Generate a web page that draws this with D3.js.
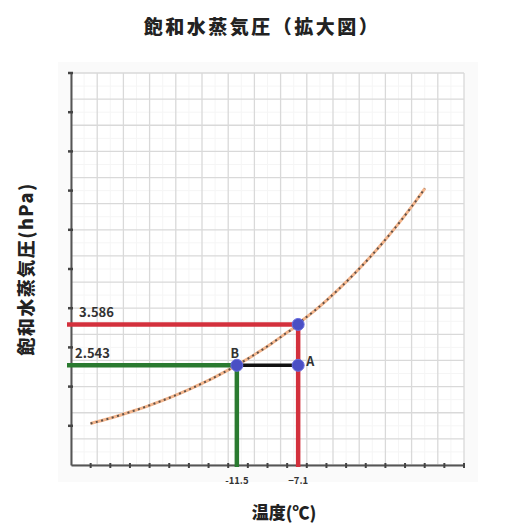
<!DOCTYPE html>
<html>
<head>
<meta charset="utf-8">
<script src="https://cdn.jsdelivr.net/npm/d3@7"></script>
<style>
  html, body { margin: 0; padding: 0; background: #ffffff; }
  svg { display: block; }
  text { font-family: "Noto Sans CJK JP", "Noto Sans", sans-serif; }
</style>
</head>
<body>
<svg id="chart" width="521" height="524"></svg>
<script>
// Saturation vapour pressure over water (hPa) vs temperature (°C)
const curveTemps = [-22, -21, -20, -19, -18, -17, -16, -15, -14, -13, -12, -11.5, -11,
                    -10, -9, -8, -7.1, -7, -6, -5, -4, -3, -2, -1, 0, 1, 2];
const curvePressures = [1.057, 1.153, 1.257, 1.370, 1.491, 1.623, 1.764, 1.916, 2.080,
                        2.256, 2.446, 2.543, 2.649, 2.868, 3.102, 3.354, 3.586, 3.623,
                        3.911, 4.220, 4.550, 4.903, 5.280, 5.682, 6.112, 6.570, 7.058];

// Marked states
const pointNames = ["", "A", "B"];
const pointTemps = [-7.1, -7.1, -11.5];
const pointPressures = [3.586, 2.543, 2.543];

// Axis annotations
const xLabelValues = [-11.5, -7.1];
const xLabelTexts = ["-11.5", "\u22127.1"];
const yLabelValues = [3.586, 2.543];
const yLabelTexts = ["3.586", "2.543"];

const xDomain = [-23.4, 4.8];
const yDomain = [0, 10];
const xTickCount = 20;   // evenly spaced tick marks along the temperature axis
const yTickValues = [0, 1, 2, 3, 4, 5, 6, 7, 8, 9, 10];
const gridDivisions = 15; // graph-paper squares in each direction

const title = "飽和水蒸気圧（拡大図）";
const xTitle = "温度(℃)";
const yTitle = "飽和水蒸気圧(hPa)";

const svg = d3.select("#chart");
const plotLeft = 71, plotRight = 464, plotTop = 73, plotBottom = 465;

const x = d3.scaleLinear().domain(xDomain).range([plotLeft, plotRight]);
const y = d3.scaleLinear().domain(yDomain).range([plotBottom, plotTop]);

// light panel behind the plot
svg.append("rect").attr("x", 58).attr("y", 62).attr("width", 420).attr("height", 420)
  .attr("fill", "#fafafa");
svg.append("rect").attr("x", plotLeft).attr("y", plotTop)
  .attr("width", plotRight - plotLeft).attr("height", plotBottom - plotTop)
  .attr("fill", "#ffffff");

// graph-paper grid
const gx = d3.range(gridDivisions + 1).map(i => xDomain[0] + i * (xDomain[1] - xDomain[0]) / gridDivisions);
const gy = d3.range(gridDivisions + 1).map(i => yDomain[0] + i * (yDomain[1] - yDomain[0]) / gridDivisions);
const gxMinor = d3.range(gridDivisions).map(i => xDomain[0] + (i + 0.5) * (xDomain[1] - xDomain[0]) / gridDivisions);
const gyMinor = d3.range(gridDivisions).map(i => yDomain[0] + (i + 0.5) * (yDomain[1] - yDomain[0]) / gridDivisions);
const grid = svg.append("g");
grid.append("g").selectAll("line").data(gxMinor).join("line")
  .attr("x1", d => x(d)).attr("x2", d => x(d)).attr("y1", plotTop).attr("y2", plotBottom)
  .attr("stroke", "#f5f5f5").attr("stroke-width", 1);
grid.append("g").selectAll("line").data(gyMinor).join("line")
  .attr("y1", d => y(d)).attr("y2", d => y(d)).attr("x1", plotLeft).attr("x2", plotRight)
  .attr("stroke", "#f5f5f5").attr("stroke-width", 1);
grid.append("g").selectAll("line").data(gx).join("line")
  .attr("x1", d => x(d)).attr("x2", d => x(d)).attr("y1", plotTop).attr("y2", plotBottom)
  .attr("stroke", "#d9d9d9").attr("stroke-width", 1.3);
grid.append("g").selectAll("line").data(gy).join("line")
  .attr("y1", d => y(d)).attr("y2", d => y(d)).attr("x1", plotLeft).attr("x2", plotRight)
  .attr("stroke", "#d9d9d9").attr("stroke-width", 1.3);

// axes
const xTicks = d3.range(xTickCount + 1).map(i => xDomain[0] + i * (xDomain[1] - xDomain[0]) / xTickCount);
const xAxis = d3.axisBottom(x).tickValues(xTicks).tickSize(0).tickFormat("");
const yAxis = d3.axisLeft(y).tickValues(yTickValues).tickSize(0).tickFormat("");
const gxA = svg.append("g").attr("transform", `translate(0,${plotBottom})`).call(xAxis);
const gyA = svg.append("g").attr("transform", `translate(${plotLeft},0)`).call(yAxis);
[gxA, gyA].forEach(g => g.select(".domain").attr("stroke", "#555").attr("stroke-width", 2));
svg.append("g").selectAll("line").data(xTicks.slice(1)).join("line")
  .attr("x1", d => x(d)).attr("x2", d => x(d)).attr("y1", plotBottom - 2).attr("y2", plotBottom + 3)
  .attr("stroke", "#444").attr("stroke-width", 2);
svg.append("g").selectAll("line").data(yTickValues.slice(1)).join("line")
  .attr("y1", d => y(d)).attr("y2", d => y(d)).attr("x1", plotLeft - 3).attr("x2", plotLeft + 2)
  .attr("stroke", "#444").attr("stroke-width", 2.5);

// saturation curve: pale orange line with dark dots
const line = d3.line().x((d, i) => x(curveTemps[i])).y(d => y(d)).curve(d3.curveMonotoneX);
svg.append("path").datum(curvePressures).attr("d", line)
  .attr("fill", "none").attr("stroke", "#f3b58c").attr("stroke-width", 3);
svg.append("path").datum(curvePressures).attr("d", line)
  .attr("fill", "none").attr("stroke", "#5e5048").attr("stroke-width", 2)
  .attr("stroke-dasharray", "2,3.5");

// guide lines
const xStart = plotLeft - 4;
const red = "#d3303c", green = "#2a7a30";
const guides = svg.append("g").attr("fill", "none").attr("stroke-linecap", "butt");
guides.append("line")
  .attr("x1", xStart).attr("x2", x(pointTemps[0])).attr("y1", y(pointPressures[0])).attr("y2", y(pointPressures[0]))
  .attr("stroke", red).attr("stroke-width", 4.5);
guides.append("line")
  .attr("x1", x(pointTemps[0])).attr("x2", x(pointTemps[0])).attr("y1", y(pointPressures[0])).attr("y2", plotBottom + 2)
  .attr("stroke", red).attr("stroke-width", 4.5);
guides.append("line")
  .attr("x1", xStart).attr("x2", x(pointTemps[2])).attr("y1", y(pointPressures[2])).attr("y2", y(pointPressures[2]))
  .attr("stroke", green).attr("stroke-width", 4.5);
guides.append("line")
  .attr("x1", x(pointTemps[2])).attr("x2", x(pointTemps[2])).attr("y1", y(pointPressures[2])).attr("y2", plotBottom + 2)
  .attr("stroke", green).attr("stroke-width", 4.5);
guides.append("line")
  .attr("x1", x(pointTemps[2])).attr("x2", x(pointTemps[1])).attr("y1", y(pointPressures[1])).attr("y2", y(pointPressures[1]))
  .attr("stroke", "#111").attr("stroke-width", 3.5);

// points
svg.append("g").selectAll("circle").data(pointTemps).join("circle")
  .attr("cx", d => x(d)).attr("cy", (d, i) => y(pointPressures[i])).attr("r", 6)
  .attr("fill", "#4a4fc4").attr("stroke", "#6a6fe0").attr("stroke-width", 1);

// point names
svg.append("text").attr("x", x(pointTemps[1]) + 8).attr("y", y(pointPressures[1]) + 1)
  .attr("font-size", 12.5).attr("font-weight", "bold").attr("fill", "#333").text(pointNames[1]);
svg.append("text").attr("x", x(pointTemps[2]) - 2).attr("y", y(pointPressures[2]) - 7)
  .attr("text-anchor", "middle").attr("font-size", 12.5).attr("font-weight", "bold").attr("fill", "#333").text(pointNames[2]);

// value labels
svg.append("g").selectAll("text").data(yLabelValues).join("text")
  .attr("x", (d, i) => i === 0 ? 79 : 75).attr("y", d => y(d) - 7)
  .attr("font-size", 13).attr("font-weight", "bold").attr("fill", "#333")
  .attr("font-family", "DejaVu Sans, sans-serif")
  .text((d, i) => yLabelTexts[i]);
svg.append("g").selectAll("text").data(xLabelValues).join("text")
  .attr("x", d => x(d)).attr("y", plotBottom + 19)
  .attr("text-anchor", "middle").attr("font-size", 9.5).attr("font-weight", "bold").attr("fill", "#333")
  .attr("font-family", "DejaVu Sans, sans-serif")
  .text((d, i) => xLabelTexts[i]);

// titles
svg.append("text").attr("x", 262).attr("y", 34).attr("text-anchor", "middle")
  .attr("font-size", 19).attr("font-weight", "900").attr("letter-spacing", 2.5).attr("fill", "#222")
  .text(title);
svg.append("text").attr("x", 284).attr("y", 519).attr("text-anchor", "middle")
  .attr("font-size", 17).attr("font-weight", "900").attr("fill", "#222")
  .text(xTitle);
svg.append("text").attr("transform", "translate(33,269) rotate(-90)").attr("text-anchor", "middle")
  .attr("font-size", 18).attr("font-weight", "900").attr("letter-spacing", 1.5).attr("fill", "#222")
  .text(yTitle);
</script>
</body>
</html>
